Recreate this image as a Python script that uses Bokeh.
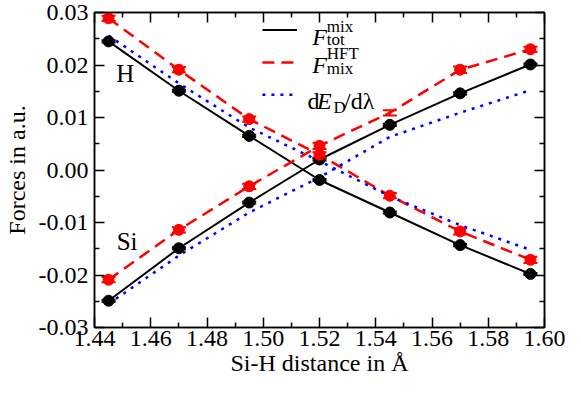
from bokeh.plotting import figure
from bokeh.models import (LinearAxis, FixedTicker, PrintfTickFormatter, Label,
                          Whisker, ColumnDataSource, TeeHead, Range1d)
from bokeh.embed import file_html
from bokeh.resources import INLINE

# ---- data ----
dist = [1.445, 1.47, 1.495, 1.52, 1.545, 1.57, 1.595]

h_tot = [0.0245, 0.0151, 0.0065, -0.0019, -0.0081, -0.0143, -0.0198]
h_hft = [0.0289, 0.0191, 0.0097, 0.0029, -0.0049, -0.0117, -0.0171]
h_ded = [0.0256, 0.0165, 0.0081, 0.0017, -0.0050, -0.0105, -0.0152]

si_tot = [-0.0249, -0.0149, -0.0062, 0.0020, 0.0086, 0.0146, 0.0201]
si_hft = [-0.0209, -0.0114, -0.0031, 0.0046, 0.0109, 0.0191, 0.0230]
si_ded = [-0.0255, -0.0163, -0.0081, -0.0014, 0.0063, 0.0109, 0.0152]

h_hft_err = [0.0005, 0.0005, 0.0005, 0.0005, 0.0005, 0.0006, 0.0006]
si_hft_err = [0.0005, 0.0005, 0.0005, 0.0006, 0.0005, 0.0006, 0.0005]
tot_err = [0.0002, 0.0002, 0.0002, 0.0002, 0.0002, 0.0002, 0.0002]
si_hft_marker = [1, 1, 1, 1, 0, 1, 1]

x_ticks = [1.44, 1.46, 1.48, 1.50, 1.52, 1.54, 1.56, 1.58, 1.60]
x_minor = [1.45, 1.47, 1.49, 1.51, 1.53, 1.55, 1.57, 1.59]
y_ticks = [-0.03, -0.02, -0.01, 0.0, 0.01, 0.02, 0.03]
y_minor = [-0.025, -0.015, -0.005, 0.005, 0.015, 0.025]

x_title = "Si-H distance in Å"
y_title = "Forces in a.u."

# legend sample-line placement (top right, in axis units)
legend_x = [1.4997, 1.5120]
legend_rows = [0.02667, 0.02048, 0.01431]

FONT = "Liberation Serif"

p = figure(width=565, height=378, x_range=Range1d(1.44, 1.60), y_range=Range1d(-0.03, 0.03),
           output_backend="svg", toolbar_location=None, title=None,
           min_border_left=80, min_border_right=21, min_border_top=12, min_border_bottom=46)
p.grid.visible = False
p.outline_line_color = "black"
p.outline_line_width = 1.5
p.background_fill_color = "white"
p.border_fill_color = "white"


def style_axis(ax, ticks, minor, show_labels=True):
    ax.ticker = FixedTicker(ticks=ticks, minor_ticks=minor)
    ax.formatter = PrintfTickFormatter(format="%.2f")
    ax.major_tick_in = 10
    ax.major_tick_out = 0
    ax.minor_tick_in = 5
    ax.minor_tick_out = 0
    ax.major_tick_line_width = 1.5
    ax.minor_tick_line_width = 1.5
    ax.major_tick_line_color = "black"
    ax.minor_tick_line_color = "black"
    ax.axis_line_width = 1.5
    ax.axis_line_color = "black"
    ax.major_label_text_font = FONT
    ax.axis_label_text_font = FONT
    ax.axis_label_text_font_style = "normal"
    ax.axis_label_text_font_size = "24px"
    ax.axis_label_text_color = "black"
    ax.axis_label_text_line_height = 1.0
    ax.major_label_text_line_height = 1.0
    if show_labels:
        ax.major_label_text_font_size = "24px"
        ax.major_label_text_color = "black"
    else:
        ax.major_label_text_font_size = "1px"
        ax.major_label_text_color = None
        ax.major_label_standoff = 0


xa = p.xaxis[0]
ya = p.yaxis[0]
style_axis(xa, x_ticks, x_minor)
style_axis(ya, y_ticks, y_minor)
xa.axis_label = x_title
ya.axis_label = y_title
xa.major_label_standoff = 3
ya.major_label_standoff = 6
xa.axis_label_standoff = 1
ya.axis_label_standoff = 6

top = LinearAxis()
style_axis(top, x_ticks, x_minor, show_labels=False)
right = LinearAxis()
style_axis(right, y_ticks, y_minor, show_labels=False)
p.add_layout(top, "above")
p.add_layout(right, "right")

# ---- lines ----
p.line(dist, h_tot, line_color="black", line_width=2)
p.line(dist, si_tot, line_color="black", line_width=2)
p.line(dist, h_hft, line_color="red", line_width=2.5, line_dash="12 7")
p.line(dist, si_hft, line_color="red", line_width=2.5, line_dash="12 7")
p.line(dist, h_ded, line_color="blue", line_width=2.5, line_dash="3 6")
p.line(dist, si_ded, line_color="blue", line_width=2.5, line_dash="3 6")

# ---- error bars ----
def whisker(y, err, color, size):
    src = ColumnDataSource(data=dict(x=dist,
                                     lo=[a - e for a, e in zip(y, err)],
                                     hi=[a + e for a, e in zip(y, err)]))
    w = Whisker(base="x", lower="lo", upper="hi", source=src, dimension="height",
                line_color=color, line_width=2,
                lower_head=TeeHead(size=size, line_color=color, line_width=2),
                upper_head=TeeHead(size=size, line_color=color, line_width=2))
    p.add_layout(w)

whisker(h_hft, h_hft_err, "red", 14)
whisker(si_hft, si_hft_err, "red", 14)
whisker(h_tot, tot_err, "black", 14)
whisker(si_tot, tot_err, "black", 14)

# ---- markers ----
p.scatter(dist, h_tot, size=11, color="black")
p.scatter(dist, si_tot, size=11, color="black")
p.scatter(dist, h_hft, size=11, color="red")
p.scatter([d for d, m in zip(dist, si_hft_marker) if m],
          [v for v, m in zip(si_hft, si_hft_marker) if m], size=11, color="red")

# ---- legend sample lines ----
p.line(legend_x, [legend_rows[0]] * 2, line_color="black", line_width=2)
p.line(legend_x, [legend_rows[1]] * 2, line_color="red", line_width=2.5, line_dash="12 7")
p.line(legend_x, [legend_rows[2]] * 2, line_color="blue", line_width=2.5, line_dash="3 6")

# ---- texts ----
def lab(x, y, text, size, style="normal", align="left", baseline="alphabetic"):
    p.add_layout(Label(x=x, y=y, text=text, text_font=FONT, text_font_size=size,
                       text_font_style=style, text_color="black",
                       text_align=align, text_baseline=baseline))

lab(1.51745, 0.02524, "F", "24px", "italic")
lab(1.52257, 0.02728, "mix", "17px")
lab(1.52257, 0.02487, "tot", "17px")
lab(1.51745, 0.02000, "F", "24px", "italic")
lab(1.52257, 0.02222, "HFT", "17px")
lab(1.52257, 0.01941, "mix", "17px")
lab(1.51574, 0.01307, "d", "24px")
lab(1.51915, 0.01307, "E", "24px", "italic")
lab(1.52495, 0.01191, "D", "17px")
lab(1.52871, 0.01307, "/dλ", "24px")

lab(1.4509, 0.0183, "H", "25px", align="center", baseline="middle")
lab(1.4516, -0.01365, "Si", "25px", align="center", baseline="middle")

open("out.html", "w").write(file_html(p, INLINE))
